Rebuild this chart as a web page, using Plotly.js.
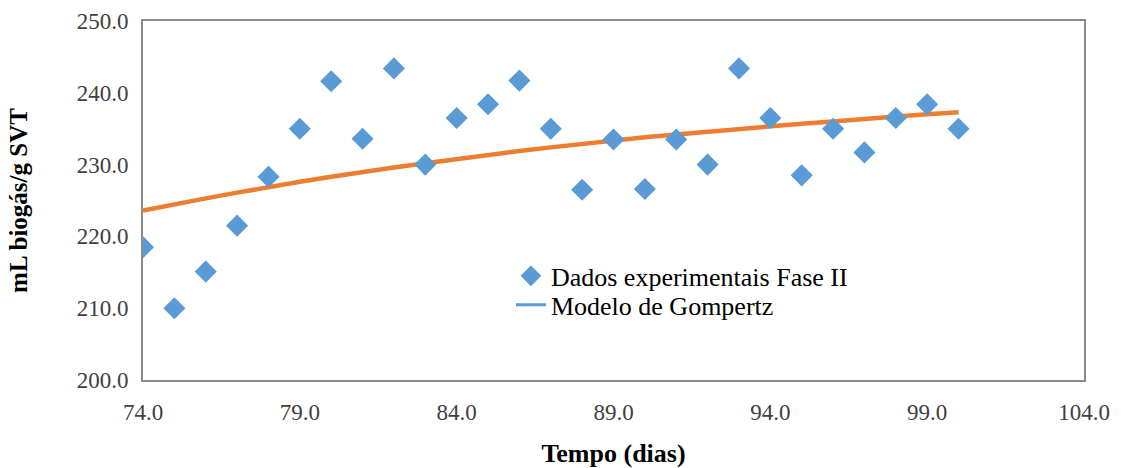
<!DOCTYPE html>
<html>
<head>
<meta charset="utf-8">
<script src="https://cdn.plot.ly/plotly-3.0.1.min.js"></script>
<style>html,body{margin:0;padding:0;background:#fff;}#chart{width:1121px;height:468px;}</style>
</head>
<body>
<div id="chart"></div>
<script>
const days = [74,75,76,77,78,79,80,81,82,83,84,85,86,87,88,89,90,91,92,93,94,95,96,97,98,99,100];
const experimental = [218.5,210.0,215.1,221.5,228.3,235.0,241.6,233.6,243.4,230.0,236.5,238.4,241.7,235.0,226.5,233.5,226.6,233.5,230.0,243.4,236.5,228.5,235.0,231.7,236.5,238.4,235.0];
const gompertz = [223.6,224.5,225.3,226.1,226.9,227.6,228.3,229.0,229.6,230.2,230.8,231.4,231.9,232.4,232.9,233.4,233.8,234.2,234.6,235.0,235.4,235.7,236.0,236.4,236.7,237.0,237.3];
const xTicks = [74,79,84,89,94,99,104];
const yTicks = [200,210,220,230,240,250];

const FONT = 'Liberation Serif, DejaVu Serif';

const traces = [
  {x: days, y: gompertz, mode: 'lines', name: 'Modelo de Gompertz', showlegend: false,
   line: {color: '#ED7D31', width: 4.5}},
  {x: days, y: experimental, mode: 'markers', name: 'Dados experimentais Fase II',
   legend: 'legend', marker: {symbol: 'diamond', size: 17, color: '#5B9BD5'}},
  {x: [null], y: [null], mode: 'lines', name: 'Modelo de Gompertz',
   legend: 'legend2', line: {color: '#5B9BD5', width: 3}}
];

const legendFont = {family: FONT, size: 26, color: '#000'};

const layout = {
  width: 1121, height: 468,
  margin: {l: 143, r: 37, t: 21, b: 88},
  paper_bgcolor: '#fff', plot_bgcolor: '#fff',
  font: {family: FONT, size: 23, color: '#404040'},
  xaxis: {
    range: [74, 104], tickvals: xTicks, ticktext: xTicks.map(v => v.toFixed(1)),
    showgrid: false, zeroline: false, showline: true, linecolor: '#8c8c8c', linewidth: 2,
    mirror: true, ticks: '', ticklabelstandoff: 10, tickfont: {family: FONT, size: 23, color: '#404040'},
    title: {text: '<b>Tempo (dias)</b>', font: {family: FONT, size: 26, color: '#000'}, standoff: 20}
  },
  yaxis: {
    range: [200, 250], tickvals: yTicks, ticktext: yTicks.map(v => v.toFixed(1)),
    showgrid: false, zeroline: false, showline: true, linecolor: '#8c8c8c', linewidth: 2,
    mirror: true, ticks: '', ticklabelstandoff: 8, tickfont: {family: FONT, size: 23, color: '#404040'},
    title: {text: '<b>mL biogás/g SVT</b>', font: {family: FONT, size: 25, color: '#000'}, standoff: 42}
  },
  legend: {x: 0.391, y: 0.29, xanchor: 'left', yanchor: 'middle', bgcolor: 'rgba(0,0,0,0)',
    font: legendFont, itemwidth: 30},
  legend2: {x: 0.391, y: 0.209, xanchor: 'left', yanchor: 'middle', bgcolor: 'rgba(0,0,0,0)',
    font: legendFont, itemwidth: 30},
  showlegend: true
};

Plotly.newPlot('chart', traces, layout, {displayModeBar: false, staticPlot: true});
</script>
</body>
</html>
